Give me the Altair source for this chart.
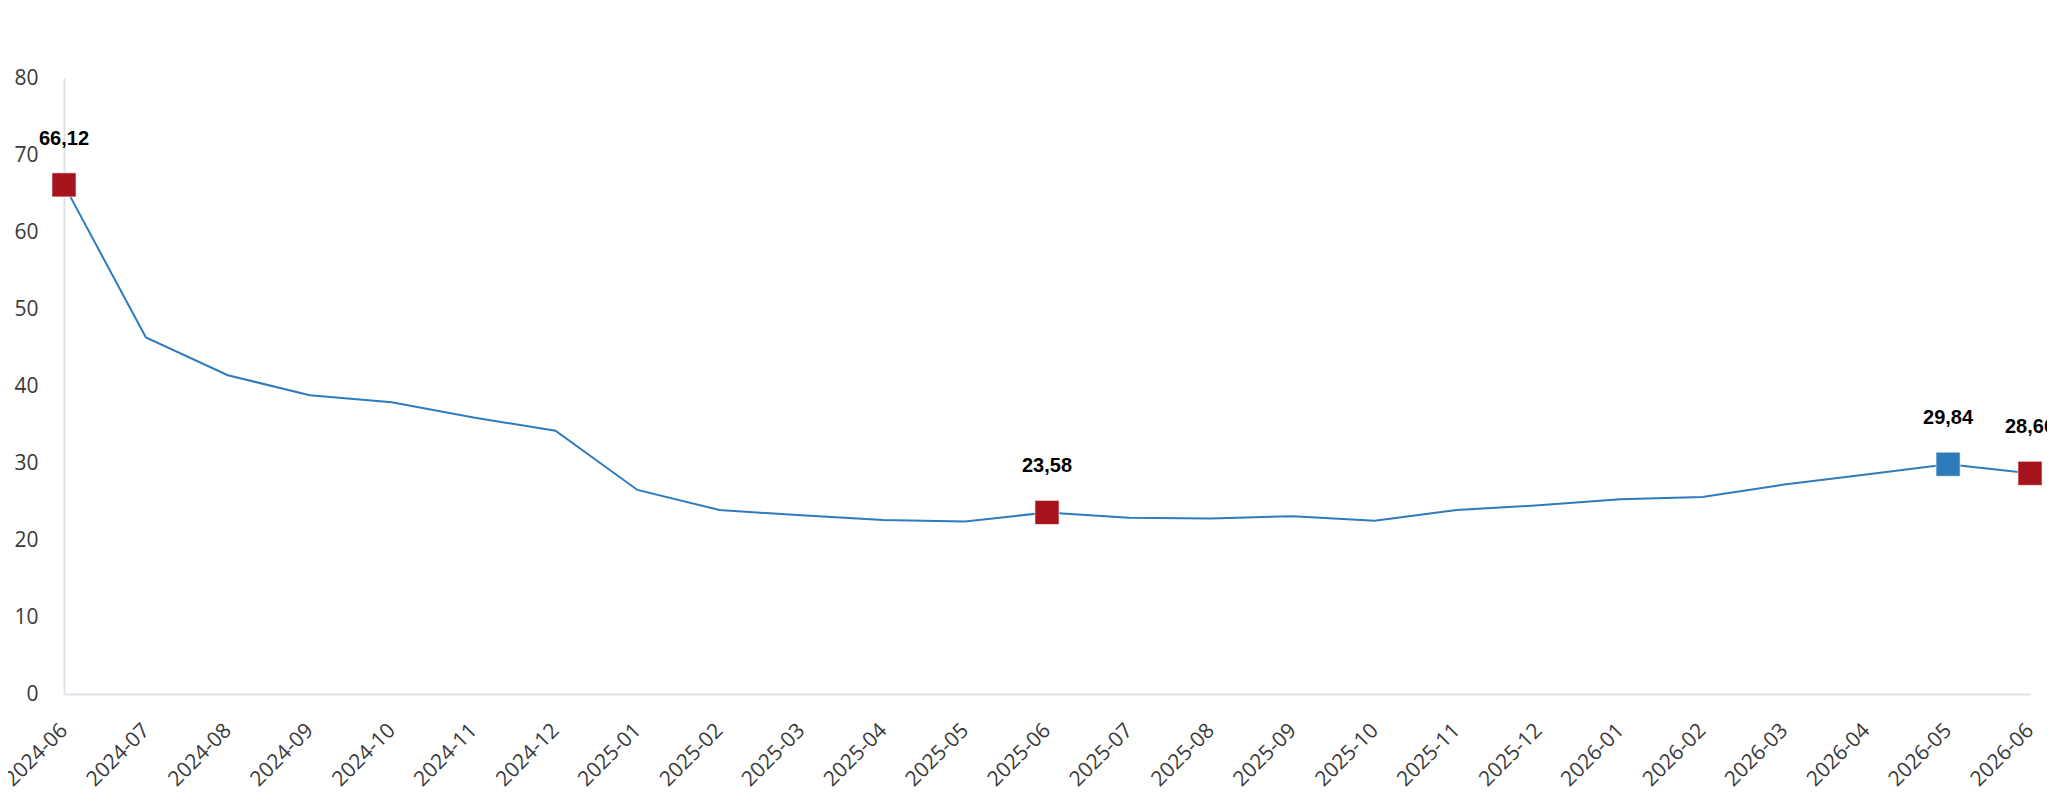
import altair as alt
import pandas as pd

months = ["2024-06", "2024-07", "2024-08", "2024-09", "2024-10", "2024-11", "2024-12",
          "2025-01", "2025-02", "2025-03", "2025-04", "2025-05", "2025-06", "2025-07",
          "2025-08", "2025-09", "2025-10", "2025-11", "2025-12", "2026-01", "2026-02",
          "2026-03", "2026-04", "2026-05", "2026-06"]
values = [66.12, 46.3, 41.4, 38.8, 37.9, 35.9, 34.2,
          26.5, 23.9, 23.2, 22.6, 22.4, 23.58, 22.9,
          22.8, 23.1, 22.5, 23.9, 24.5, 25.3, 25.6,
          27.2, 28.5, 29.84, 28.66]
highlight_months = ["2024-06", "2025-06", "2026-05", "2026-06"]
highlight_kind = ["red", "red", "blue", "red"]
highlight_labels = ["66,12", "23,58", "29,84", "28,66"]

df = pd.DataFrame({"month": months, "value": values})
hl = pd.DataFrame({
    "month": highlight_months,
    "kind": highlight_kind,
    "label": highlight_labels,
    "value": [values[months.index(m)] for m in highlight_months],
})

x = alt.X("month:O", sort=months, title=None,
          scale=alt.Scale(type="point", padding=0),
          axis=alt.Axis(labelAngle=-45, labelAlign="right", labelBaseline="middle",
                        labelPadding=33, ticks=False, domainColor="#DDE2E9",
                        domainWidth=2, labelFont="Open Sans", labelFontSize=21,
                        labelColor="#3a3a3a", grid=False))
y = alt.Y("value:Q", title=None,
          scale=alt.Scale(domain=[0, 80], nice=False, zero=True),
          axis=alt.Axis(values=[0, 10, 20, 30, 40, 50, 60, 70, 80], ticks=False,
                        domainColor="#DDE2E9", domainWidth=2, labelPadding=26,
                        labelFont="Open Sans", labelFontSize=21, labelColor="#3a3a3a",
                        grid=False))

line = alt.Chart(df).mark_line(color="#2E7BBD", strokeWidth=2).encode(x=x, y=y)

points = alt.Chart(hl).mark_point(shape="square", filled=True, size=580, opacity=1,
                                  stroke="white", strokeWidth=1, strokeOpacity=0.6).encode(
    x=alt.X("month:O", sort=months),
    y="value:Q",
    color=alt.Color("kind:N", scale=alt.Scale(domain=["red", "blue"],
                                              range=["#A6131C", "#2E7BBA"]), legend=None),
)

labels = alt.Chart(hl).mark_text(font="Liberation Sans", fontWeight="bold", fontSize=20,
                                 color="black", dy=-46, align="center",
                                 baseline="middle").encode(
    x=alt.X("month:O", sort=months),
    y="value:Q",
    text="label:N",
)

chart = alt.layer(line, points, labels).properties(
    width=1966, height=616,
    autosize=alt.AutoSizeParams(type="none"),
    padding={"left": 56, "top": 70, "right": 17, "bottom": 100},
).configure_view(stroke=None)

chart.save("out.html", embed_options={"renderer": "svg", "actions": False})
